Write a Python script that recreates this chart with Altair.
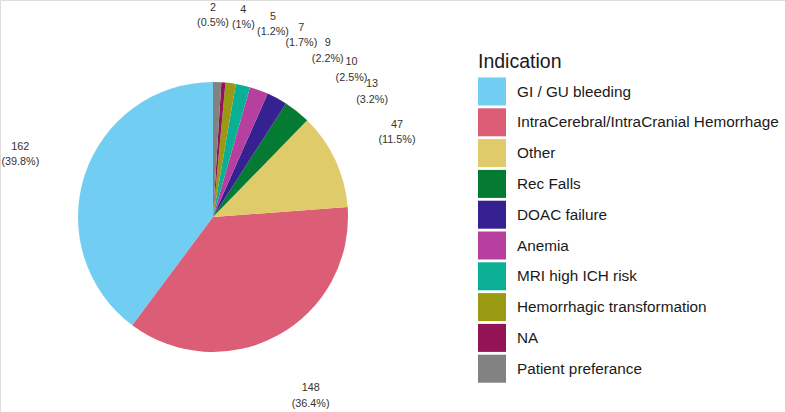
import math
import altair as alt
import pandas as pd

# Indication categories in legend order, with counts and fill colours
indications = [
    "GI / GU bleeding",
    "IntraCerebral/IntraCranial Hemorrhage",
    "Other",
    "Rec Falls",
    "DOAC failure",
    "Anemia",
    "MRI high ICH risk",
    "Hemorrhagic transformation",
    "NA",
    "Patient preferance",
]
counts = [162, 148, 47, 13, 10, 9, 7, 5, 2, 4]
colors = [
    "#71CDF2", "#DB5E76", "#E0CB6B", "#047A33", "#35218F",
    "#B63FA0", "#0BAF96", "#9A9A12", "#931456", "#828282",
]

total = sum(counts)

# slices run clockwise from 12 o'clock in reverse legend order
slices = pd.DataFrame({
    "Indication": indications,
    "n": counts,
    "slice_order": list(range(len(indications) - 1, -1, -1)),
})

# count labels: sorted ascending, each centred on its share of the circle,
# then pushed apart so neighbouring labels keep a minimum angular gap
label_counts = sorted(counts)
mids = []
acc = 0
for c in label_counts:
    mids.append((acc + c / 2) / total * 360)
    acc += c


def spread(angles, gap, lower):
    # least-squares placement with a minimum gap (pool adjacent violators)
    shifted = [a - i * gap for i, a in enumerate(angles)]
    blocks = []
    for v in shifted:
        blocks.append([v, 1])
        while len(blocks) > 1 and blocks[-2][0] / blocks[-2][1] > blocks[-1][0] / blocks[-1][1]:
            s, k = blocks.pop()
            blocks[-1][0] += s
            blocks[-1][1] += k
    fitted = []
    for s, k in blocks:
        fitted += [max(s / k, lower)] * k
    return [f + i * gap for i, f in enumerate(fitted)]


label_angles = spread(mids, 8.6, 0.0)
labels = pd.DataFrame({
    "angle": label_angles,
    "text": [f"{c}\n({round(c / total * 100, 1):g}%)" for c in label_counts],
})

cx, cy = 213, 217
line_height = 15.5

pie = alt.Chart(slices).mark_arc(radius=135, stroke=None).encode(
    theta=alt.Theta("n:Q", stack=True),
    order=alt.Order("slice_order:Q"),
    color=alt.Color(
        "Indication:N",
        sort=indications,
        scale=alt.Scale(domain=indications, range=colors),
        legend=alt.Legend(
            title="Indication",
            orient="none",
            legendX=478,
            legendY=53,
            titleFontSize=19.5,
            titleFontWeight="normal",
            titleColor="#1a1a1a",
            titleFont="Liberation Sans",
            titlePadding=5,
            labelFontSize=15.3,
            labelFont="Liberation Sans",
            labelColor="#1a1a1a",
            labelOffset=11,
            labelLimit=400,
            symbolType="square",
            symbolSize=784,
            symbolStrokeWidth=0,
            symbolOpacity=1,
            rowPadding=2.8,
            padding=0,
        ),
    ),
    x=alt.value(cx),
    y=alt.value(cy),
)

# two-line labels: shift up about half a line so the block sits on its anchor
text = alt.Chart(labels).mark_text(
    radius=203,
    fontSize=10.8,
    font="Liberation Sans",
    color="#333333",
    align="center",
    baseline="middle",
    lineHeight=line_height,
    lineBreak="\n",
    dy=-6.5,
).encode(
    theta=alt.Theta("angle:Q", stack=False,
                    scale=alt.Scale(domain=[0, 360], range=[0, 2 * math.pi])),
    text="text:N",
    x=alt.value(cx),
    y=alt.value(cy),
)

chart = (
    alt.layer(pie, text)
    .resolve_scale(theta="independent")
    .properties(width=785, height=412, autosize=alt.AutoSizeParams(type="none"), padding=0)
    .configure_view(stroke=None)
    .configure(background="white")
)

chart.save("out.html", embed_options={"renderer": "svg", "actions": False})
